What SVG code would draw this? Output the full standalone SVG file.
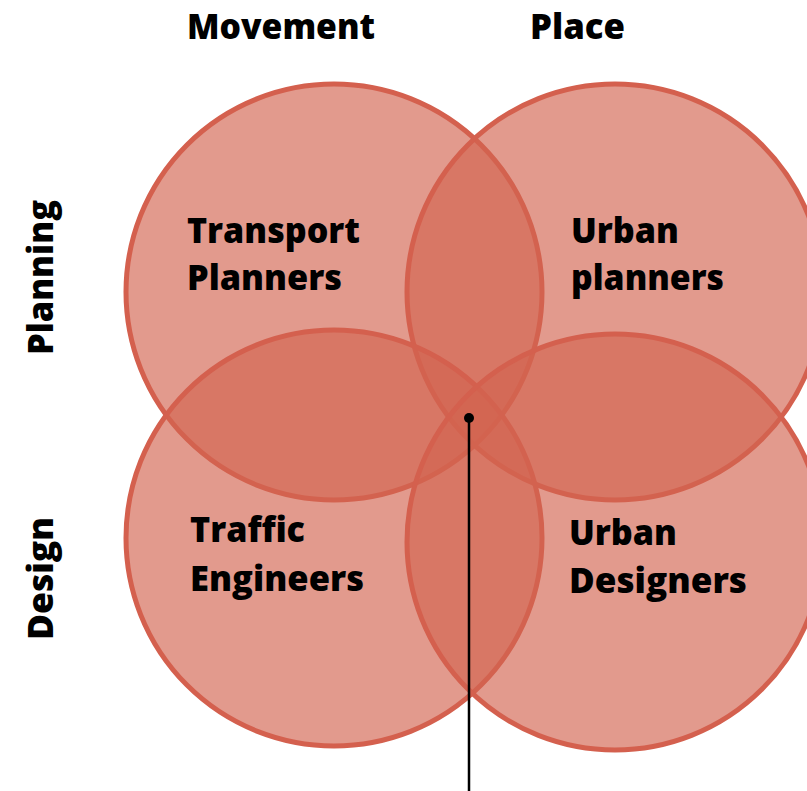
<svg xmlns="http://www.w3.org/2000/svg" width="807" height="791" viewBox="0 0 807 791">
<style>
.c{fill:rgb(210,100,80);fill-opacity:0.65;stroke:#d4604e;stroke-width:5}
.t{font-family:"Open Sans",Lato,sans-serif;font-weight:800;font-size:35px;fill:#000}
</style>
<rect width="807" height="791" fill="#fff"/>
<g id="node-transport"><circle class="c" cx="334" cy="292" r="208"/></g>
<g id="node-urban-planners"><circle class="c" cx="615" cy="292" r="208"/></g>
<g id="node-traffic"><circle class="c" cx="334" cy="538" r="208"/></g>
<g id="node-urban-designers"><circle class="c" cx="615" cy="542" r="208"/></g>
<g id="labels">
<text class="t" x="187" y="39" textLength="188" lengthAdjust="spacingAndGlyphs">Movement</text>
<text class="t" x="530" y="39" textLength="95" lengthAdjust="spacingAndGlyphs">Place</text>
<text class="t" transform="translate(53,355) rotate(-90)" textLength="155" lengthAdjust="spacingAndGlyphs">Planning</text>
<text class="t" transform="translate(53,640) rotate(-90)" textLength="123" lengthAdjust="spacingAndGlyphs">Design</text>
<text class="t" x="187" y="243" textLength="173" lengthAdjust="spacingAndGlyphs">Transport</text>
<text class="t" x="187" y="290" textLength="155" lengthAdjust="spacingAndGlyphs">Planners</text>
<text class="t" x="571" y="243" textLength="108" lengthAdjust="spacingAndGlyphs">Urban</text>
<text class="t" x="571" y="290" textLength="153" lengthAdjust="spacingAndGlyphs">planners</text>
<text class="t" x="190" y="542" textLength="115" lengthAdjust="spacingAndGlyphs">Traffic</text>
<text class="t" x="190" y="591" textLength="174" lengthAdjust="spacingAndGlyphs">Engineers</text>
<text class="t" x="569" y="545" textLength="108" lengthAdjust="spacingAndGlyphs">Urban</text>
<text class="t" x="569" y="593" textLength="178" lengthAdjust="spacingAndGlyphs">Designers</text>
</g>
<g id="connectors">
<line x1="469" y1="418" x2="469" y2="791" stroke="#000" stroke-width="2.5"/>
<circle cx="469" cy="418" r="5" fill="#000"/>
</g>
</svg>
